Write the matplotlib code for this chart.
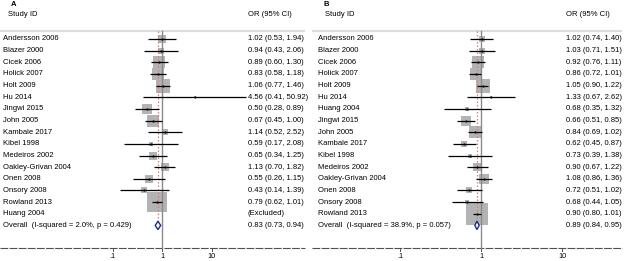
import numpy as np
import matplotlib
matplotlib.use("Agg")
import matplotlib.pyplot as plt
from matplotlib.patches import Polygon

plt.rcParams['font.family'] = ['Liberation Sans', 'DejaVu Sans']

# ---------------- data ----------------
studies_A = ["Andersson 2006", "Blazer 2000", "Cicek 2006", "Holick 2007", "Holt 2009",
             "Hu 2014", "Jingwi 2015", "John 2005", "Kambale 2017", "Kibel 1998",
             "Medeiros 2002", "Oakley-Grivan 2004", "Onen 2008", "Onsory 2008",
             "Rowland 2013", "Huang 2004"]
or_A = [1.02, 0.94, 0.89, 0.83, 1.06, 4.56, 0.50, 0.67, 1.14, 0.59, 0.65, 1.13, 0.55, 0.43, 0.79, None]
lo_A = [0.53, 0.43, 0.60, 0.58, 0.77, 0.41, 0.28, 0.45, 0.52, 0.17, 0.34, 0.70, 0.26, 0.14, 0.62, None]
hi_A = [1.94, 2.06, 1.30, 1.18, 1.46, 50.92, 0.89, 1.00, 2.52, 2.08, 1.25, 1.82, 1.15, 1.39, 1.01, None]
weight_A = [3.8, 1.8, 10.5, 10.5, 14.0, 0.1, 6.0, 10.5, 2.2, 1.0, 4.0, 5.0, 4.0, 1.6, 25.0, None]
overall_A = (0.83, 0.73, 0.94)
het_A = "Overall  (I-squared = 2.0%, p = 0.429)"

studies_B = ["Andersson 2006", "Blazer 2000", "Cicek 2006", "Holick 2007", "Holt 2009",
             "Hu 2014", "Huang 2004", "Jingwi 2015", "John 2005", "Kambale 2017",
             "Kibel 1998", "Medeiros 2002", "Oakley-Grivan 2004", "Onen 2008",
             "Onsory 2008", "Rowland 2013"]
or_B = [1.02, 1.03, 0.92, 0.86, 1.05, 1.33, 0.68, 0.66, 0.84, 0.62, 0.73, 0.90, 1.08, 0.72, 0.68, 0.90]
lo_B = [0.74, 0.71, 0.76, 0.72, 0.90, 0.67, 0.35, 0.51, 0.69, 0.45, 0.39, 0.67, 0.86, 0.51, 0.44, 0.80]
hi_B = [1.40, 1.51, 1.11, 1.01, 1.22, 2.62, 1.32, 0.85, 1.02, 0.87, 1.38, 1.22, 1.36, 1.02, 1.05, 1.01]
weight_B = [3.0, 2.3, 10.5, 10.5, 14.0, 0.3, 1.0, 6.2, 10.5, 3.0, 0.6, 4.0, 6.2, 2.3, 1.0, 30.0]
overall_B = (0.89, 0.84, 0.95)
het_B = "Overall  (I-squared = 38.9%, p = 0.057)"

tick_vals = [0.1, 1, 10]
tick_labels = [".1", "1", "10"]

# ---------------- layout ----------------
W, H, DPI = 625, 261, 100
fig = plt.figure(figsize=(W / DPI, H / DPI), dpi=DPI)

ROW0, ROWD = 39.0, 11.65   # pixel y of first row, row spacing


def row_of(ypix):
    return (ypix - ROW0) / ROWD


FS = 5.5
BOX = '#b3b3b3'
NAVY = '#1f2a8a'


def panel(left_px, width_px, x1_px, dec_px, letter, letter_px, hdr_px, name_px, or_px,
          studies, ors, los, his, weights, overall, het, line_end):
    ax = fig.add_axes([left_px / W, 0, width_px / W, 1])
    ax.set_xscale('log')
    lx0 = (left_px - x1_px) / dec_px
    lx1 = (left_px + width_px - x1_px) / dec_px
    ax.set_xlim(10 ** lx0, 10 ** lx1)
    ax.set_ylim(row_of(H), row_of(0))
    ax.axis('off')
    fx = lambda p: (p - left_px) / width_px
    tr = ax.get_yaxis_transform()  # x axes, y data

    # letter and headers
    ax.text(fx(letter_px), row_of(4), letter, transform=tr, fontsize=FS, fontweight='bold',
            va='center', ha='left')
    ax.text(fx(hdr_px), row_of(15), "Study ID", transform=tr, fontsize=FS, va='center', ha='left')
    ax.text(fx(or_px), row_of(15), "OR (95% CI)", transform=tr, fontsize=FS, va='center', ha='left')
    ax.plot([0, line_end], [row_of(30.5)] * 2, transform=tr, color='#dcdcdc', lw=1.6,
            solid_capstyle='butt')

    n = len(studies)
    top, bot = row_of(31), row_of(247.7)
    # null line
    ax.plot([1, 1], [top, bot], color='#8a8a8a', lw=1.0, zorder=3)
    # overall dotted line
    ax.plot([overall[0]] * 2, [top, n - 0.35], color='#d08080', lw=0.9, ls=(0, (1.2, 1.6)), zorder=4)

    for i, name in enumerate(studies):
        ax.text(fx(name_px), i, name, transform=tr, fontsize=FS, va='center', ha='left')
        if ors[i] is None:
            ax.text(fx(or_px), i, "(Excluded)", transform=tr, fontsize=FS, va='center', ha='left')
            continue
        side_px = 4.0 * np.sqrt(weights[i])
        side_pt = side_px * 72 / DPI
        ax.scatter([ors[i]], [i], marker='s', s=side_pt ** 2, color=BOX, linewidths=0, zorder=2)
        ax.plot([los[i], his[i]], [i, i], color='black', lw=0.9, zorder=5, solid_capstyle='butt')
        ax.scatter([ors[i]], [i], marker='o', s=2.5, color='black', linewidths=0, zorder=6)
        ax.text(fx(or_px), i, f"{ors[i]:.2f} ({los[i]:.2f}, {his[i]:.2f})", transform=tr,
                fontsize=FS, va='center', ha='left')

    # overall
    yo = n
    ax.text(fx(name_px), yo, het, transform=tr, fontsize=FS, va='center', ha='left')
    est, lo, hi = overall
    dia = Polygon([[lo, yo], [est, yo - 0.36], [hi, yo], [est, yo + 0.36]], closed=True,
                  facecolor='white', edgecolor=NAVY, lw=1.0, zorder=7)
    ax.add_patch(dia)
    ax.text(fx(or_px), yo, f"{est:.2f} ({lo:.2f}, {hi:.2f})", transform=tr, fontsize=FS,
            va='center', ha='left')

    # x axis
    ya = row_of(247.7)
    ax.plot([0.0, line_end], [ya, ya], transform=tr, color='#505050', lw=0.8,
            ls=(0, (7, 1.2)))
    for v, lab in zip(tick_vals, tick_labels):
        ax.plot([v, v], [ya, row_of(250.5)], color='#505050', lw=0.7)
        ax.text(v, row_of(256.5), lab, fontsize=FS - 0.3, ha='center', va='center')
    return ax


panel(0, 310, 162.0, 49.5, "A", 11, 8, 3, 248,
      studies_A, or_A, lo_A, hi_A, weight_A, overall_A, het_A, 0.985)
panel(312, 313, 481.0, 81.0, "B", 323, 325, 318, 566,
      studies_B, or_B, lo_B, hi_B, weight_B, overall_B, het_B, 0.99)

fig.savefig("out.png", dpi=DPI, facecolor='white')
